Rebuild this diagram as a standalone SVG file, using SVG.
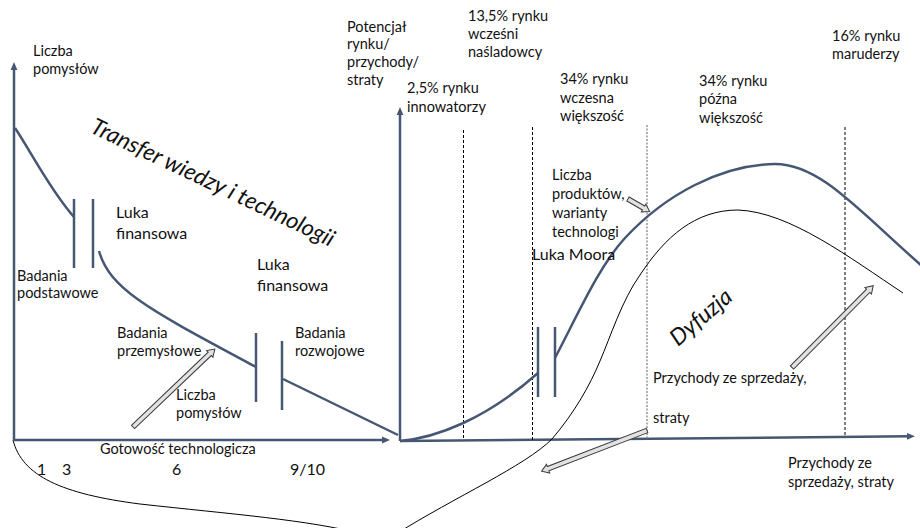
<svg xmlns="http://www.w3.org/2000/svg" width="920" height="528" viewBox="0 0 920 528">
  <style>
    text { font-family: Lato, "Liberation Sans", sans-serif; fill: #111; }
    .s { font-size: 14.5px; }
    .m { font-size: 16px; }
    .n { font-size: 16px; }
    .w { font-size: 23px; font-style: italic; }
    .axis { stroke: #465773; stroke-width: 2.5; fill: none; }
    .curve { stroke: #465773; stroke-width: 2.5; fill: none; }
    .bar { stroke: #465773; stroke-width: 2.5; }
    .thin { stroke: #000; stroke-width: 1; fill: none; }
    .div { stroke: #000; stroke-width: 1; stroke-dasharray: 3 2; }
    .div-grey { stroke: #7a7a7a; stroke-width: 1.2; stroke-dasharray: 2 1.5; }
    .block { fill: #e2e2e2; stroke: #3a3a3a; stroke-width: 1; }
  </style>
  <defs>
    <marker id="axisHead" viewBox="0 0 8 8" refX="3" refY="4" markerWidth="8" markerHeight="8" orient="auto" markerUnits="userSpaceOnUse">
      <path d="M0,0.6 L8,4 L0,7.4 Z" fill="#465773"/>
    </marker>
    <!-- hollow block arrows pointing along +x, tail at origin -->
    <path id="blockLong" d="M0,-2.3 L106,-2.3 L106,-4.6 L113,0 L106,4.6 L106,2.3 L0,2.3 Z"/>
    <path id="blockShort" d="M0,-2.3 L18,-2.3 L18,-4.6 L25,0 L18,4.6 L18,2.3 L0,2.3 Z"/>
  </defs>

  <!-- axes -->
  <g id="axes">
    <path class="axis" d="M14,440 L14,67" marker-end="url(#axisHead)"/>
    <path class="axis" d="M14,440 L385,440" marker-end="url(#axisHead)"/>
    <path class="axis" d="M400,441 L400,112" marker-end="url(#axisHead)"/>
    <path class="axis" d="M400,441 L910,436.3" marker-end="url(#axisHead)"/>
  </g>

  <!-- adopter-group dividers -->
  <g id="dividers">
    <line class="div" x1="463.5" y1="130" x2="463.5" y2="440"/>
    <line class="div" x1="532.5" y1="127" x2="532.5" y2="440"/>
    <line class="div-grey" x1="647" y1="125" x2="647" y2="439"/>
    <line class="div" x1="845" y1="127" x2="845" y2="437"/>
  </g>

  <g id="connectors">
    <!-- idea count curve, broken by the funding gaps -->
    <path class="curve" d="M15,128 C30,150 50,190 74,217"/>
    <path class="curve" d="M99,251 C110,290 150,310 256,367"/>
    <path class="curve" d="M283,379 L398,435"/>
    <line class="bar" x1="74" y1="199" x2="74" y2="268"/>
    <line class="bar" x1="93" y1="199" x2="93" y2="268"/>
    <line class="bar" x1="256" y1="333" x2="256" y2="402"/>
    <line class="bar" x1="282" y1="341" x2="282" y2="410"/>

    <!-- market potential curve with the Moore gap -->
    <path class="curve" d="M400,441 C435,438 485,420 538,373"/>
    <path class="curve" d="M555,358 C580,310 600,265 625,238 C665,195 720,165 775,164 C820,164 858,210 922,266"/>
    <line class="bar" x1="538" y1="327" x2="538" y2="397"/>
    <line class="bar" x1="555" y1="327" x2="555" y2="397"/>

    <!-- revenue / loss curve (dips below the lower edge between the charts) -->
    <path class="thin" d="M13,440 C22,476 62,494 140,504 C230,514 310,520 362,534"/>
    <path class="thin" d="M396,534 C455,497 525,466 552,439 C575,412 590,385 600,361 C610,338 622,300 640,275 C665,237 695,210 738,210 C790,212 850,258 903,293"/>

    <!-- block arrows -->
    <use href="#blockLong" class="block" transform="translate(133,427) rotate(-43.6)"/>
    <use href="#blockShort" class="block" transform="translate(628,199) rotate(30)"/>
    <use href="#blockLong" class="block" transform="translate(647,430.5) rotate(158.9)"/>
    <use href="#blockLong" class="block" transform="translate(792,367.5) rotate(-45.2) scale(1.02,1)"/>
  </g>

  <!-- left chart labels -->
  <g id="ideas-axis-label"><text class="s" x="33" y="56">Liczba<tspan x="33" y="73.5">pomysłów</tspan></text></g>
  <g id="transfer-title"><text class="w" transform="translate(89,132) rotate(25.5)">Transfer wiedzy i technologii</text></g>
  <g id="gap-1"><text class="m" x="116" y="218">Luka<tspan x="116" y="239">finansowa</tspan></text></g>
  <g id="gap-2"><text class="m" x="257" y="270">Luka<tspan x="257" y="291">finansowa</tspan></text></g>
  <g id="basic-research"><text class="s" x="17" y="280.5">Badania<tspan x="17" y="298">podstawowe</tspan></text></g>
  <g id="industrial-research"><text class="s" x="117" y="337.5">Badania<tspan x="117" y="356">przemysłowe</tspan></text></g>
  <g id="ideas-count"><text class="s" x="176" y="400">Liczba<tspan x="176" y="418">pomysłów</tspan></text></g>
  <g id="development-research"><text class="s" x="295" y="337.5">Badania<tspan x="295" y="356">rozwojowe</tspan></text></g>
  <g id="readiness-axis"><text class="s" x="100" y="454">Gotowość technologicza</text></g>
  <g id="readiness-levels">
    <text class="n" x="37" y="475">1</text>
    <text class="n" x="62" y="475">3</text>
    <text class="n" x="172" y="475">6</text>
    <text class="n" x="290" y="475">9/10</text>
  </g>

  <!-- right chart labels -->
  <g id="market-axis-label"><text class="s" x="347" y="31.5">Potencjał<tspan x="347" y="49">rynku/</tspan><tspan x="347" y="67">przychody/</tspan><tspan x="347" y="85">straty</tspan></text></g>
  <g id="innovators"><text class="s" x="407" y="93">2,5% rynku<tspan x="407" y="111.5">innowatorzy</tspan></text></g>
  <g id="early-adopters"><text class="s" x="468" y="20.5">13,5% rynku<tspan x="468" y="38.5">wcześni</tspan><tspan x="468" y="57">naśladowcy</tspan></text></g>
  <g id="early-majority"><text class="s" x="560" y="84">34% rynku<tspan x="560" y="102.5">wczesna</tspan><tspan x="560" y="121">większość</tspan></text></g>
  <g id="late-majority"><text class="s" x="699" y="85.5">34% rynku<tspan x="699" y="104">późna</tspan><tspan x="699" y="122.5">większość</tspan></text></g>
  <g id="laggards"><text class="s" x="832" y="40.5">16% rynku<tspan x="832" y="59">maruderzy</tspan></text></g>
  <g id="products-count"><text class="s" x="552" y="180">Liczba<tspan x="552" y="199">produktów,</tspan><tspan x="552" y="218">warianty</tspan><tspan x="552" y="237">technologi</tspan></text></g>
  <g id="moore-gap"><text class="m" x="532" y="260">Luka Moora</text></g>
  <g id="diffusion-title"><text class="w" transform="translate(678,347) rotate(-40.6)">Dyfuzja</text></g>
  <g id="revenue-label"><text class="s" x="653" y="383">Przychody ze sprzedaży,</text></g>
  <g id="losses-label"><text class="s" x="653" y="423">straty</text></g>
  <g id="revenue-axis-label"><text class="s" x="788" y="468">Przychody ze<tspan x="788" y="487">sprzedaży, straty</tspan></text></g>
</svg>
